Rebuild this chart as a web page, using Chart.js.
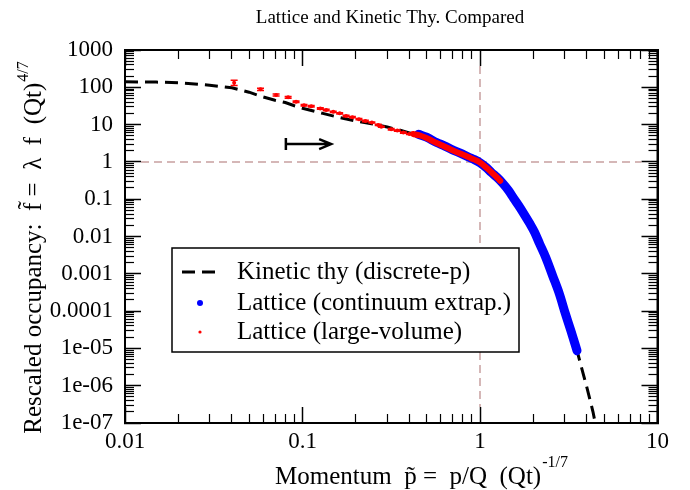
<!DOCTYPE html>
<html>
<head>
<meta charset="utf-8">
<script src="https://cdn.jsdelivr.net/npm/chart.js@4.4.0/dist/chart.umd.min.js"></script>
<style>
  body { margin: 0; background: #fff; }
</style>
</head>
<body>
<canvas id="chart" width="690" height="490"></canvas>
<script>
// --- data ---
const seriesNames = ['Kinetic thy (discrete-p)', 'Lattice (continuum extrap.)', 'Lattice (large-volume)'];

// kinetic theory curve (dashed)
const kineticP = [0.01, 0.015, 0.02, 0.03, 0.04, 0.05, 0.06, 0.07, 0.08, 0.09, 0.1, 0.13, 0.16, 0.2, 0.25, 0.3, 0.35, 0.4, 0.46, 0.57, 0.7, 0.86, 1.0, 1.16, 1.34, 1.55, 1.76, 2.0, 2.17, 2.57, 3.03, 3.52, 4.0, 4.33, 4.5];
const kineticF = [141, 138, 132, 114, 97, 74, 55, 45, 39, 32, 27.5, 20, 15.7, 12.5, 10.3, 8.6, 7.2, 6.0, 5.0, 3.2, 2.1, 1.4, 1.0, 0.55, 0.29, 0.12, 0.042, 0.016, 0.0063, 8.7e-4, 8.4e-5, 8.7e-6, 9e-7, 2e-7, 8e-8];

// lattice, continuum extrapolation (blue band)
const contP = [0.45, 0.5, 0.57, 0.63, 0.7, 0.78, 0.86, 0.93, 1.0, 1.08, 1.16, 1.25, 1.34, 1.45, 1.55, 1.65, 1.76, 1.9, 2.03, 2.17, 2.35, 2.57, 2.8, 3.03, 3.25, 3.52];
const contF = [5.5, 4.6, 3.3, 2.7, 2.1, 1.7, 1.35, 1.15, 0.95, 0.72, 0.52, 0.38, 0.27, 0.17, 0.105, 0.068, 0.042, 0.023, 0.013, 0.0063, 0.0027, 8.7e-4, 2.9e-4, 8.4e-5, 3.0e-5, 8.7e-6];

// lattice, large volume: sparse points with error bars
const volP = [0.0412, 0.058, 0.071, 0.083, 0.092, 0.102, 0.112, 0.126, 0.136, 0.149, 0.162, 0.176, 0.191, 0.208, 0.226, 0.246, 0.267, 0.278, 0.316, 0.342, 0.37, 0.4];
const volF = [133, 88, 62, 54, 41, 33, 31, 27, 24.6, 22, 20, 17, 15.8, 14, 12.5, 11.4, 9.8, 8.8, 7.5, 6.9, 6.1, 5.6];
const volErr = [22, 6, 4, 3, 2, 1.5, 1.3, 1.1, 1, 0.9, 0.8, 0.7, 0.6, 0.5, 0.5, 0.4, 0.4, 0.3, 0.3, 0.25, 0.2, 0.2];
// lattice, large volume: dense part (red band)
const bandP = [0.42, 0.46, 0.52, 0.57, 0.63, 0.7, 0.78, 0.86, 0.93, 1.0, 1.08, 1.16, 1.25, 1.3];
const bandF = [5.6, 5.1, 4.0, 3.2, 2.6, 2.05, 1.65, 1.35, 1.15, 0.97, 0.72, 0.53, 0.38, 0.31];

const xTicks = [0.01, 0.1, 1, 10];
const xTickLabels = ['0.01', '0.1', '1', '10'];
const yTicks = [1e-7, 1e-6, 1e-5, 1e-4, 1e-3, 0.01, 0.1, 1, 10, 100, 1000];
const yTickLabels = ['1e-07', '1e-06', '1e-05', '0.0001', '0.001', '0.01', '0.1', '1', '10', '100', '1000'];
const minorSteps = [2, 3, 4, 5, 6, 7, 8, 9];

const refX = 1, refY = 1;
const arrowP = [0.0806, 0.145];
const arrowF = 3;

const titleText = 'Lattice and Kinetic Thy. Compared';
const xTitle = 'Momentum  p\u0303 =  p/Q  (Qt)', xTitleSup = '-1/7';
const yTitle = 'Rescaled occupancy:  f\u0303 =  \u03bb  f  (Qt)', yTitleSup = '4/7';

const SERIF = '"Liberation Serif", "DejaVu Serif", serif';

function pts(xs, ys) {
  return xs.map((x, i) => ({ x: x, y: ys[i] }));
}

// minor tick values 2..9 within each decade
const xMinor = xTicks.slice(0, -1).flatMap(t => minorSteps.map(m => t * m));
const yMinor = yTicks.slice(0, -1).flatMap(t => minorSteps.map(m => t * m));

// extra zero-size axes that only carry inward tick marks (grace style)
function tickAxis(position, min, max, values, len, width, withBorder) {
  const horizontal = position === 'top' || position === 'bottom';
  return {
    type: 'logarithmic',
    position: position,
    min: min,
    max: max,
    weight: -1,
    grid: { display: true, drawOnChartArea: false, drawTicks: true, tickLength: -len, tickWidth: width, tickColor: '#000' },
    border: { display: withBorder, width: 2, color: '#000' },
    ticks: { display: false },
    afterBuildTicks: s => { s.ticks = values.map(v => ({ value: v })); },
    afterFit: s => { if (horizontal) s.height = 0; else s.width = 0; }
  };
}

const decorations = {
  id: 'decorations',
  beforeDatasetsDraw(chart) {
    const ctx = chart.ctx, a = chart.chartArea;
    const xs = chart.scales.x, ys = chart.scales.y;
    ctx.save();
    ctx.strokeStyle = 'rgb(200,160,160)';
    ctx.lineWidth = 1.5;
    ctx.setLineDash([8, 5]);
    const px = xs.getPixelForValue(refX), py = ys.getPixelForValue(refY);
    ctx.beginPath();
    ctx.moveTo(px, a.top + 16); ctx.lineTo(px, a.bottom - 16);
    ctx.moveTo(a.left + 16, py); ctx.lineTo(a.right - 16, py);
    ctx.stroke();
    ctx.restore();
  },
  afterDatasetsDraw(chart) {
    const ctx = chart.ctx;
    const xs = chart.scales.x, ys = chart.scales.y;
    ctx.save();
    // error bars
    ctx.strokeStyle = '#ff0000';
    ctx.lineWidth = 1.5;
    volP.forEach((p, i) => {
      const x = xs.getPixelForValue(p);
      const y1 = ys.getPixelForValue(volF[i] - volErr[i]);
      const y2 = ys.getPixelForValue(volF[i] + volErr[i]);
      ctx.beginPath();
      ctx.moveTo(x, y1); ctx.lineTo(x, y2);
      ctx.moveTo(x - 3.5, y1); ctx.lineTo(x + 3.5, y1);
      ctx.moveTo(x - 3.5, y2); ctx.lineTo(x + 3.5, y2);
      ctx.stroke();
    });

    // arrow
    const ax1 = xs.getPixelForValue(arrowP[0]), ax2 = xs.getPixelForValue(arrowP[1]);
    const ay = ys.getPixelForValue(arrowF);
    ctx.strokeStyle = '#000';
    ctx.lineWidth = 2.5;
    ctx.beginPath();
    ctx.moveTo(ax1, ay - 6); ctx.lineTo(ax1, ay + 6);
    ctx.moveTo(ax1, ay); ctx.lineTo(ax2, ay);
    ctx.moveTo(ax2 - 12, ay - 5); ctx.lineTo(ax2, ay); ctx.lineTo(ax2 - 12, ay + 5);
    ctx.stroke();

    // legend box
    const lx = 172, ly = 248, lw = 347, lh = 104;
    ctx.fillStyle = '#fff';
    ctx.fillRect(lx, ly, lw, lh);
    ctx.strokeStyle = '#000';
    ctx.lineWidth = 1.5;
    ctx.strokeRect(lx, ly, lw, lh);
    const rows = [272, 303, 332];
    ctx.lineWidth = 3;
    ctx.setLineDash([13, 7]);
    ctx.beginPath();
    ctx.moveTo(182, rows[0]); ctx.lineTo(217, rows[0]);
    ctx.stroke();
    ctx.setLineDash([]);
    ctx.fillStyle = '#0000ff';
    ctx.beginPath(); ctx.arc(200, rows[1], 3, 0, Math.PI * 2); ctx.fill();
    ctx.fillStyle = '#ff0000';
    ctx.beginPath(); ctx.arc(200, rows[2], 1.6, 0, Math.PI * 2); ctx.fill();
    ctx.fillStyle = '#000';
    ctx.font = '25px ' + SERIF;
    ctx.textBaseline = 'middle';
    ctx.textAlign = 'left';
    seriesNames.forEach((n, i) => ctx.fillText(n, 237, rows[i]));
    ctx.restore();
  },
  afterDraw(chart) {
    const ctx = chart.ctx, a = chart.chartArea;
    ctx.save();
    // frame
    ctx.strokeStyle = '#000';
    ctx.lineWidth = 2;
    ctx.strokeRect(a.left, a.top, a.right - a.left, a.bottom - a.top);

    // titles
    ctx.fillStyle = '#000';
    ctx.textBaseline = 'alphabetic';
    ctx.textAlign = 'center';
    ctx.font = '19px ' + SERIF;
    ctx.fillText(titleText, 390, 23);

    // x axis title with superscript
    ctx.textAlign = 'left';
    ctx.font = '25px ' + SERIF;
    const w1 = ctx.measureText(xTitle).width;
    ctx.font = '16px ' + SERIF;
    const w2 = ctx.measureText(xTitleSup).width;
    let sx = 421 - (w1 + w2) / 2;
    ctx.font = '25px ' + SERIF;
    ctx.fillText(xTitle, sx, 484);
    ctx.font = '16px ' + SERIF;
    ctx.fillText(xTitleSup, sx + w1 + 1, 467);

    // y axis title, rotated
    ctx.translate(41, 248);
    ctx.rotate(-Math.PI / 2);
    ctx.font = '25px ' + SERIF;
    const h1 = ctx.measureText(yTitle).width;
    ctx.font = '16px ' + SERIF;
    const h2 = ctx.measureText(yTitleSup).width;
    sx = -(h1 + h2) / 2;
    ctx.font = '25px ' + SERIF;
    ctx.fillText(yTitle, sx, 0);
    ctx.font = '16px ' + SERIF;
    ctx.fillText(yTitleSup, sx + h1 + 1, -13);
    ctx.restore();
  }
};

new Chart(document.getElementById('chart'), {
  type: 'scatter',
  data: {
    datasets: [
      {
        label: seriesNames[0],
        data: pts(kineticP, kineticF),
        showLine: true,
        borderColor: '#000',
        borderWidth: 3,
        borderDash: [13, 7],
        pointRadius: 0,
        order: 3
      },
      {
        label: seriesNames[1],
        data: pts(contP, contF),
        showLine: true,
        borderColor: '#0000ff',
        backgroundColor: '#0000ff',
        borderWidth: 9,
        borderCapStyle: 'round',
        borderJoinStyle: 'round',
        cubicInterpolationMode: 'monotone',
        pointRadius: 0,
        order: 2
      },
      {
        label: seriesNames[2],
        data: pts(bandP, bandF),
        showLine: true,
        borderColor: '#ff0000',
        borderWidth: 6,
        borderCapStyle: 'round',
        borderJoinStyle: 'round',
        cubicInterpolationMode: 'monotone',
        pointRadius: 0,
        order: 1
      },
      {
        label: seriesNames[2],
        data: pts(volP, volF),
        showLine: false,
        backgroundColor: '#ff0000',
        borderColor: '#ff0000',
        pointRadius: 2,
        borderWidth: 0,
        order: 0
      }
    ]
  },
  options: {
    responsive: false,
    animation: false,
    layout: { padding: { top: 50, right: 15, left: 0, bottom: 0 } },
    plugins: {
      legend: { display: false },
      tooltip: { enabled: false }
    },
    scales: {
      x: {
        type: 'logarithmic',
        position: 'bottom',
        min: 0.01,
        max: 10,
        grid: { display: true, drawOnChartArea: false, drawTicks: true, tickLength: -16, tickWidth: 1.5, tickColor: '#000' },
        border: { display: true, width: 2, color: '#000' },
        afterBuildTicks: s => { s.ticks = xTicks.map(v => ({ value: v })); },
        afterFit: s => { s.height = 67; },
        ticks: {
          autoSkip: false,
          maxRotation: 0,
          padding: 21,
          color: '#000',
          font: { family: SERIF, size: 23 },
          callback: (v, i) => xTickLabels[i]
        }
      },
      y: {
        type: 'logarithmic',
        position: 'left',
        min: 1e-7,
        max: 1000,
        grid: { display: true, drawOnChartArea: false, drawTicks: true, tickLength: -16, tickWidth: 1.5, tickColor: '#000' },
        border: { display: true, width: 2, color: '#000' },
        afterBuildTicks: s => { s.ticks = yTicks.map(v => ({ value: v })); },
        afterFit: s => { s.width = 125; },
        ticks: {
          autoSkip: false,
          padding: 28,
          color: '#000',
          font: { family: SERIF, size: 23 },
          callback: (v, i) => yTickLabels[i]
        }
      },
      xMinorBottom: tickAxis('bottom', 0.01, 10, xMinor, 9, 1.2, false),
      xMajorTop: tickAxis('top', 0.01, 10, xTicks, 16, 1.5, true),
      xMinorTop: tickAxis('top', 0.01, 10, xMinor, 9, 1.2, false),
      yMinorLeft: tickAxis('left', 1e-7, 1000, yMinor, 9, 1.2, false),
      yMajorRight: tickAxis('right', 1e-7, 1000, yTicks, 16, 1.5, true),
      yMinorRight: tickAxis('right', 1e-7, 1000, yMinor, 9, 1.2, false)
    }
  },
  plugins: [decorations]
});
</script>
</body>
</html>
